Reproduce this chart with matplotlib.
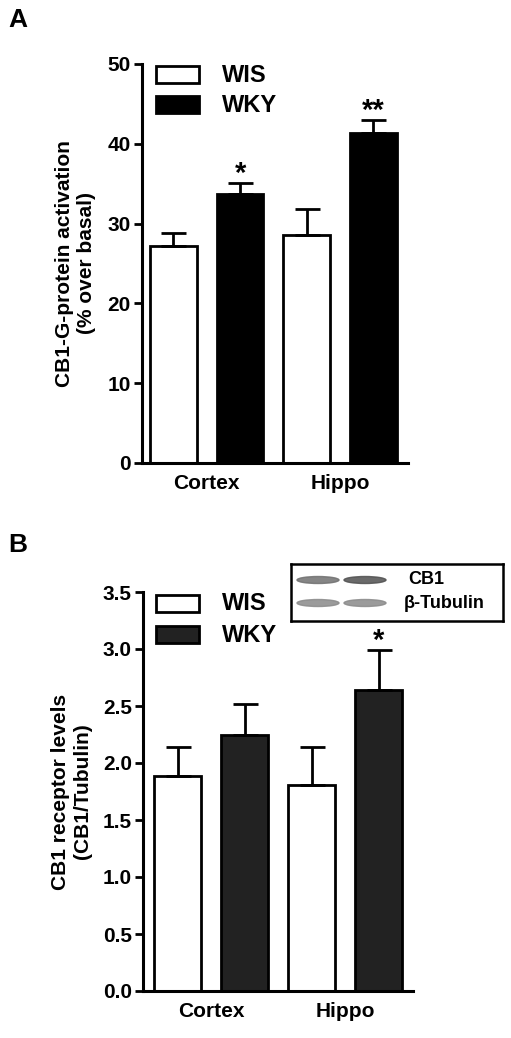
import matplotlib
matplotlib.use("Agg")
import matplotlib.pyplot as plt
from matplotlib.patches import Ellipse
import numpy as np

plt.rcParams['font.family'] = ['Liberation Sans', 'DejaVu Sans']
plt.rcParams['font.weight'] = 'bold'

regions = ["Cortex", "Hippo"]
groups = ["WIS", "WKY"]
a_vals = [27.2, 33.7, 28.6, 41.4]
a_err = [1.6, 1.4, 3.2, 1.6]
a_stars = ["", "*", "", "**"]
b_vals = [1.89, 2.25, 1.81, 2.64]
b_err = [0.25, 0.27, 0.33, 0.35]
b_stars = ["", "", "", "*"]

W, H = 511, 1038
fig = plt.figure(figsize=(W/100, H/100), dpi=100)
pos = [1, 2, 3, 4]

def panel(rect, xlim, vals, err, stars, ylim, ticks, fmt, ylabel, legy, dark):
    ax = fig.add_axes(rect)
    colors = ["white", dark, "white", dark]
    ax.bar(pos, vals, width=0.7, color=colors, edgecolor="black", linewidth=2)
    for p, v, e in zip(pos, vals, err):
        ax.errorbar(p, v, yerr=[[0], [e]], fmt="none", ecolor="black", capsize=9, elinewidth=2, capthick=2)
    for p, v, e, s in zip(pos, vals, err, stars):
        if s:
            ax.text(p, v + e - ylim[1]*0.012, s, ha="center", va="bottom", fontsize=21, fontweight="bold")
    ax.set_xlim(*xlim)
    ax.set_ylim(*ylim)
    ax.set_yticks(ticks)
    ax.set_yticklabels([fmt.format(t) for t in ticks], fontsize=15, fontweight="bold")
    ax.set_xticks([1.5, 3.5])
    ax.set_xticklabels(regions, fontsize=15, fontweight="bold")
    ax.tick_params(axis="x", length=0, pad=8)
    ax.tick_params(axis="y", width=2, length=6, pad=2)
    for s in ["top", "right"]:
        ax.spines[s].set_visible(False)
    for s in ["left", "bottom"]:
        ax.spines[s].set_linewidth(2.2)
    ax.set_ylabel(ylabel, fontsize=15, fontweight="bold", labelpad=8)
    for i, (g, c) in enumerate(zip(groups, ["white", dark])):
        y0 = legy[i]
        fig.patches.append(plt.Rectangle((156/W, 1-y0/H-17/H), 43/W, 17/H, transform=fig.transFigure,
                                         facecolor=c, edgecolor="black", linewidth=2))
        fig.text(222/W, 1-(y0+9)/H, g, fontsize=17, fontweight="bold", va="center")
    return ax

panel([142/W, 1-463/H, 266/W, 399/H], (0.528, 4.52), a_vals, a_err, a_stars, (0, 50),
      [0, 10, 20, 30, 40, 50], "{:g}", "CB1-G-protein activation\n(% over basal)", [66, 96], "black")
panel([143/W, 1-991/H, 270/W, 399/H], (0.485, 4.51), b_vals, b_err, b_stars, (0, 3.5),
      np.arange(0, 3.51, 0.5), "{:.1f}", "CB1 receptor levels\n(CB1/Tubulin)", [595, 626], "#222222")

fig.text(8/W, 1-20/H, "A", fontsize=19, fontweight="bold", va="center")
fig.text(8/W, 1-545/H, "B", fontsize=19, fontweight="bold", va="center")

ins = fig.add_axes([291/W, 1-621/H, 212/W, 57/H])
ins.set_xlim(0, 212); ins.set_ylim(57, 0)
ins.set_xticks([]); ins.set_yticks([])
for s in ins.spines.values():
    s.set_linewidth(1.8)
for cx, shade in [(27, "#707070"), (74, "#505050")]:
    ins.add_patch(Ellipse((cx, 16), 42, 7, color=shade, alpha=0.85))
    ins.add_patch(Ellipse((cx, 39), 42, 7, color="#8a8a8a", alpha=0.85))
ins.text(117, 16, "CB1", fontsize=13, fontweight="bold", va="center")
ins.text(113, 40, "β-Tubulin", fontsize=13, fontweight="bold", va="center")

fig.savefig("out.png", dpi=100)
